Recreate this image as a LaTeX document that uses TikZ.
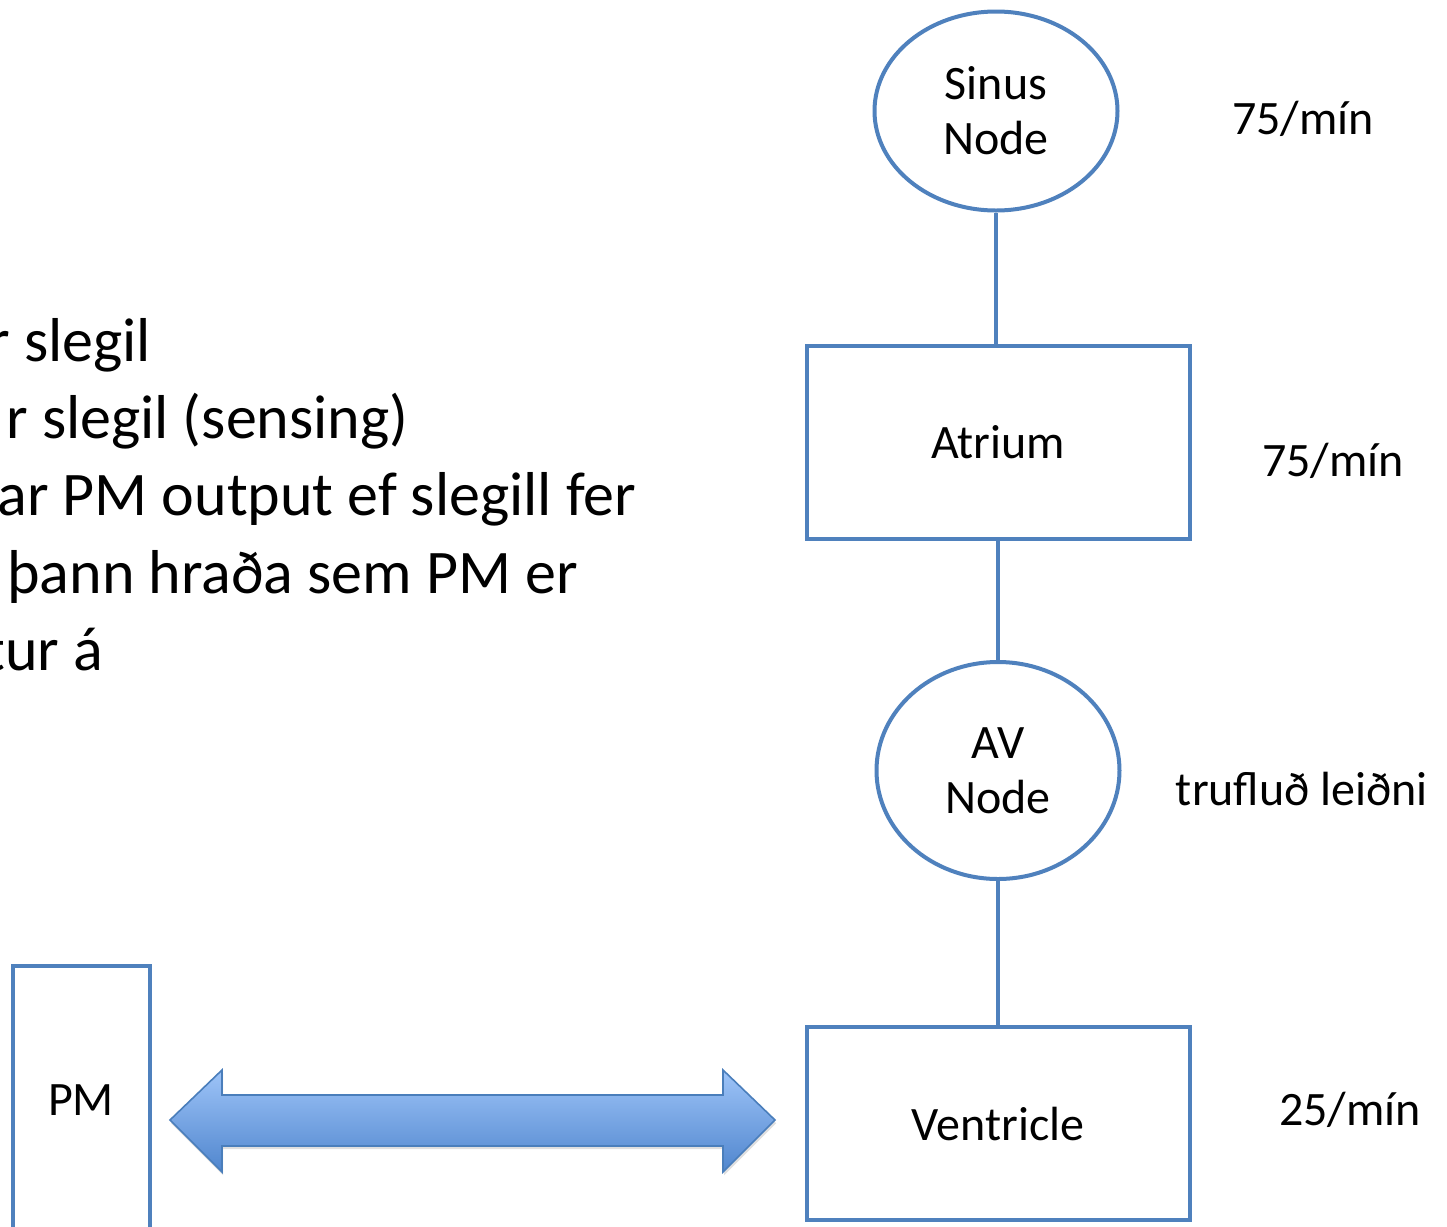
\documentclass[tikz,border=0pt]{standalone}
\usepackage{fontspec}
\setmainfont{Carlito}
\usetikzlibrary{shapes.geometric,shadows}
\definecolor{edgeblue}{RGB}{79,129,189}
\definecolor{arrowtop}{RGB}{158,196,248}
\definecolor{arrowbot}{RGB}{80,134,206}
\definecolor{arrowline}{RGB}{74,126,187}
\tikzset{
  oval/.style={ellipse, draw=edgeblue, line width=2pt, inner sep=0pt,
    align=center, font=\fontsize{24}{27.5}\selectfont},
  block/.style={rectangle, draw=edgeblue, line width=2pt, inner sep=0pt,
    minimum width=191.5pt, minimum height=96.5pt, font=\fontsize{24}{28}\selectfont},
  link/.style={draw=edgeblue, line width=2pt},
  rate/.style={font=\fontsize{24}{28}\selectfont, inner sep=0pt},
  bodytext/.style={font=\fontsize{31}{38}\selectfont, inner sep=0pt, anchor=base west},
}
\begin{document}
\begin{tikzpicture}[x=0.5pt, y=-0.5pt]
  \useasboundingbox (0,0) rectangle (1447,1227);
  \clip (0,0) rectangle (1447,1227);
  \fill[white] (0,0) rectangle (1447,1227);

  % conduction chain
  \node[oval, minimum width=121.5pt, minimum height=99.5pt] (sinus) at (996,111) {Sinus\\Node};
  \node[block] (atrium) at (998,442.5) {Atrium};
  \node[oval, minimum width=121.5pt, minimum height=108.5pt] (av) at (998,770.5) {AV\\Node};
  \node[block] (ventricle) at (998,1123.5) {Ventricle};

  \draw[link] (sinus.south) -- (atrium.north -| sinus.south);
  \draw[link] (atrium.south) -- (av.north);
  \draw[link] (av.south) -- (ventricle.north);

  % rates beside each stage
  \node[rate] (r1) at (1303,119) {75/mín};
  \node[rate] (r2) at (1333,461) {75/mín};
  \node[rate] (r3) at (1302,789) {trufluð leiðni};
  \node[rate] (r4) at (1350,1110) {25/mín};

  % pacemaker box, running off the lower edge
  \draw[edgeblue, line width=2pt] (13,1300) -- (13,966) -- (150,966) -- (150,1300);
  \node[font=\fontsize{24}{28}\selectfont, inner sep=0pt] (pm) at (81,1100) {PM};

  % two-way block arrow between pacemaker and ventricle
  \path[draw=arrowline, line width=0.8pt, top color=arrowtop, bottom color=arrowbot,
        drop shadow={opacity=0.25, shadow xshift=0.6pt, shadow yshift=-1.6pt}]
    (170,1120) -- (222,1070) -- (222,1095) -- (723,1095) -- (723,1070)
    -- (775,1120) -- (723,1172) -- (723,1146) -- (222,1146) -- (222,1172) -- cycle;

  % bullet text, cut at the left edge
  \node[bodytext] (t1) at (-12,361) {r slegil};
  \node[bodytext] (t2) at (6,438) {r slegil (sensing)};
  \node[bodytext] (t3) at (-3,515) {ar PM output ef slegill fer};
  \node[bodytext] (t4) at (7,593) {þann hraða sem PM er};
  \node[bodytext] (t5) at (-16,670) {tur á};
\end{tikzpicture}
\end{document}
